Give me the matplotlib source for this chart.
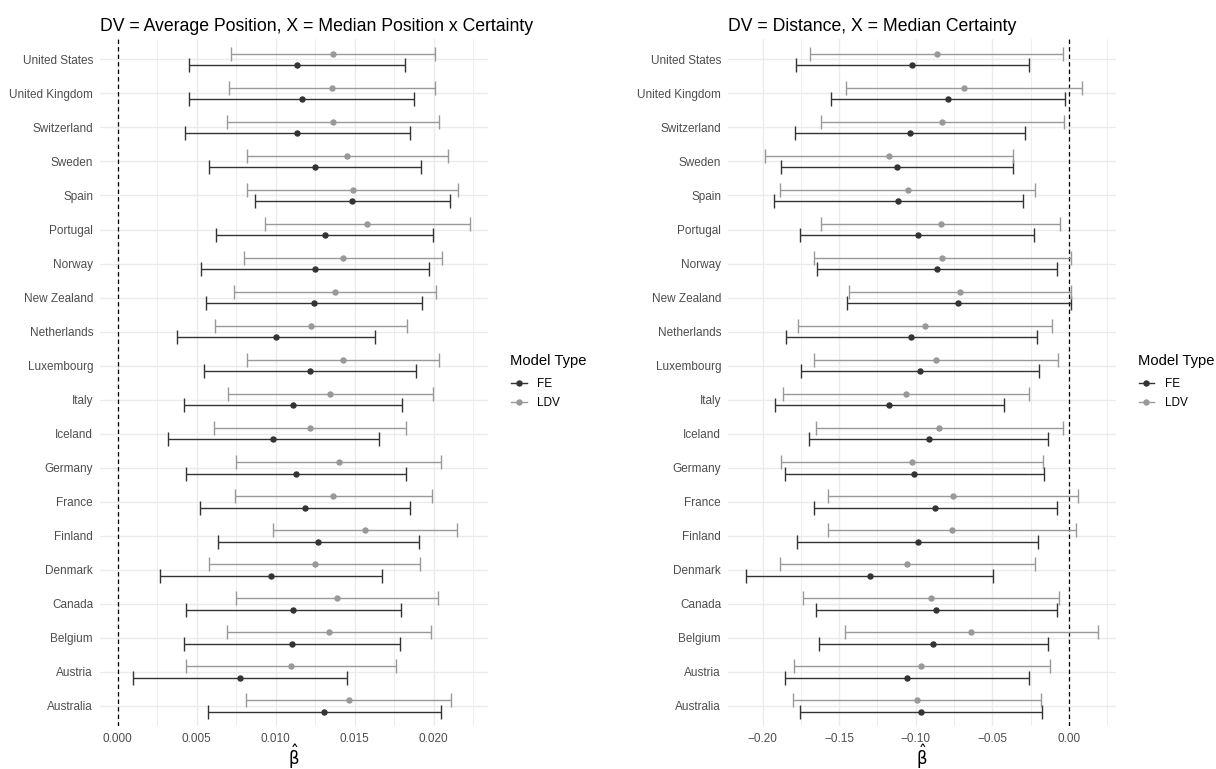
import matplotlib.pyplot as plt
from matplotlib.lines import Line2D
from matplotlib.ticker import MultipleLocator
import numpy as np

plt.rcParams['font.family'] = ['Liberation Sans', 'DejaVu Sans']

# Countries, bottom to top on the y axis
countries = ["Australia", "Austria", "Belgium", "Canada", "Denmark", "Finland",
             "France", "Germany", "Iceland", "Italy", "Luxembourg", "Netherlands",
             "New Zealand", "Norway", "Portugal", "Spain", "Sweden", "Switzerland",
             "United Kingdom", "United States"]

# DV = Average Position, X = Median Position x Certainty
pos_fe_est = [0.01308, 0.00775, 0.01104, 0.01112, 0.00973, 0.01268, 0.01186, 0.01129,
              0.00985, 0.01108, 0.01215, 0.01002, 0.01243, 0.01247, 0.01313, 0.01483,
              0.01247, 0.01137, 0.01165, 0.01135]
pos_fe_lo = [0.00572, 0.00097, 0.00420, 0.00433, 0.00268, 0.00633, 0.00523, 0.00435,
             0.00319, 0.00422, 0.00549, 0.00378, 0.00557, 0.00528, 0.00625, 0.00867,
             0.00576, 0.00424, 0.00454, 0.00452]
pos_fe_hi = [0.02044, 0.01449, 0.01789, 0.01794, 0.01675, 0.01905, 0.01848, 0.01823,
             0.01656, 0.01800, 0.01886, 0.01629, 0.01928, 0.01968, 0.01998, 0.02101,
             0.01918, 0.01853, 0.01878, 0.01819]
pos_ldv_est = [0.01462, 0.01097, 0.01340, 0.01386, 0.01247, 0.01563, 0.01365, 0.01399,
               0.01218, 0.01346, 0.01424, 0.01222, 0.01376, 0.01428, 0.01580, 0.01487,
               0.01452, 0.01365, 0.01357, 0.01361]
pos_ldv_lo = [0.00815, 0.00433, 0.00694, 0.00749, 0.00578, 0.00981, 0.00741, 0.00749,
              0.00610, 0.00696, 0.00816, 0.00616, 0.00737, 0.00802, 0.00930, 0.00819,
              0.00819, 0.00694, 0.00707, 0.00715]
pos_ldv_hi = [0.02112, 0.01762, 0.01985, 0.02025, 0.01916, 0.02148, 0.01992, 0.02047,
              0.01827, 0.01996, 0.02032, 0.01829, 0.02017, 0.02055, 0.02232, 0.02154,
              0.02089, 0.02036, 0.02006, 0.02011]

# DV = Distance, X = Median Certainty
dist_fe_est = [-0.0967, -0.1058, -0.0887, -0.0867, -0.1302, -0.0987, -0.0872, -0.1009,
               -0.0917, -0.1172, -0.0971, -0.1030, -0.0722, -0.0863, -0.0989, -0.1113,
               -0.1124, -0.1037, -0.0793, -0.1022]
dist_fe_lo = [-0.1756, -0.1852, -0.1632, -0.1654, -0.2110, -0.1773, -0.1661, -0.1854,
              -0.1697, -0.1917, -0.1747, -0.1847, -0.1452, -0.1647, -0.1754, -0.1928,
              -0.1882, -0.1786, -0.1556, -0.1780]
dist_fe_hi = [-0.0174, -0.0261, -0.0139, -0.0080, -0.0498, -0.0200, -0.0080, -0.0163,
              -0.0137, -0.0424, -0.0194, -0.0211, 0.0011, -0.0078, -0.0226, -0.0298,
              -0.0367, -0.0285, -0.0028, -0.0259]
dist_ldv_est = [-0.0991, -0.0963, -0.0637, -0.0904, -0.1058, -0.0765, -0.0756, -0.1028,
                -0.0846, -0.1065, -0.0867, -0.0939, -0.0713, -0.0826, -0.0839, -0.1054,
                -0.1174, -0.0826, -0.0687, -0.0863]
dist_ldv_lo = [-0.1801, -0.1795, -0.1465, -0.1734, -0.1889, -0.1576, -0.1573, -0.1882,
               -0.1654, -0.1869, -0.1663, -0.1769, -0.1439, -0.1663, -0.1621, -0.1886,
               -0.1984, -0.1619, -0.1456, -0.1691]
dist_ldv_hi = [-0.0183, -0.0126, 0.0191, -0.0065, -0.0224, 0.0046, 0.0059, -0.0172,
               -0.0037, -0.0261, -0.0070, -0.0111, 0.0011, 0.0009, -0.0057, -0.0220,
               -0.0365, -0.0031, 0.0085, -0.0037]

model_types = ["FE", "LDV"]
model_colors = {"FE": "#333333", "LDV": "#999999"}
dodge = {"FE": -0.17, "LDV": 0.17}

GRID = "#EBEBEB"
TEXT = "#4D4D4D"


def draw_panel(ax, title, series, major_step):
    y = np.arange(len(countries))
    values = []
    for model in model_types:
        est, lo, hi = (np.array(v) for v in series[model])
        values.extend([lo, hi])
        ax.errorbar(est, y + dodge[model], xerr=[est - lo, hi - est], fmt='o',
                    color=model_colors[model], ecolor=model_colors[model],
                    markersize=3.6, elinewidth=1.0, capsize=5.2, capthick=1.0,
                    zorder=3)
    ax.axvline(0, color="black", lw=0.9, linestyle=(0, (3.5, 2.5)), zorder=2)

    # ggplot-style 5% expansion around the data (including the zero line)
    xmin = min(0, min(v.min() for v in values))
    xmax = max(0, max(v.max() for v in values))
    pad = 0.05 * (xmax - xmin)
    ax.set_xlim(xmin - pad, xmax + pad)
    ax.set_ylim(-0.6, len(countries) - 0.4)

    ax.xaxis.set_major_locator(MultipleLocator(major_step))
    ax.xaxis.set_minor_locator(MultipleLocator(major_step / 2))
    ax.set_yticks(y)
    ax.set_yticklabels(countries)
    ax.grid(which='major', color=GRID, lw=1.0, zorder=0)
    ax.grid(which='minor', axis='x', color=GRID, lw=0.6, zorder=0)
    ax.set_axisbelow(True)
    for side in ax.spines.values():
        side.set_visible(False)
    ax.tick_params(which='both', length=0, pad=5, labelsize=8.5, labelcolor=TEXT)
    ax.set_xlabel(r'$\hat{\mathrm{\beta}}$', fontsize=12, labelpad=-2)
    ax.set_title(title, loc='left', fontsize=12.7, pad=6)


fig = plt.figure(figsize=(12.16, 7.69), dpi=100)
ax1 = fig.add_axes([0.0822, 0.0554, 0.3191, 0.894])
ax2 = fig.add_axes([0.5987, 0.0554, 0.3191, 0.894])

draw_panel(ax1, "DV = Average Position, X = Median Position x Certainty",
           {"FE": (pos_fe_est, pos_fe_lo, pos_fe_hi),
            "LDV": (pos_ldv_est, pos_ldv_lo, pos_ldv_hi)}, 0.005)
ax1.xaxis.set_major_formatter(lambda v, p: f"{v:.3f}")

draw_panel(ax2, "DV = Distance, X = Median Certainty",
           {"FE": (dist_fe_est, dist_fe_lo, dist_fe_hi),
            "LDV": (dist_ldv_est, dist_ldv_lo, dist_ldv_hi)}, 0.05)
ax2.xaxis.set_major_formatter(lambda v, p: f"{v:.2f}".replace("-", "\u2212"))

# Legend beside each panel: title as its own text, keys below it
handles = [Line2D([], [], color=model_colors[m], marker='o', markersize=3.6, lw=1.0)
           for m in model_types]
for x_left in (0.4165, 0.9325):
    fig.text(x_left + 0.003, 1 - 361 / 769, "Model Type", fontsize=10.6,
             ha='left', va='center')
    fig.legend(handles, model_types, loc='upper left',
               bbox_to_anchor=(x_left, 1 - 373 / 769), frameon=False, fontsize=8.5,
               handlelength=1.3, handletextpad=0.9, labelspacing=0.6,
               borderaxespad=0)

fig.savefig("out.png", dpi=100)
